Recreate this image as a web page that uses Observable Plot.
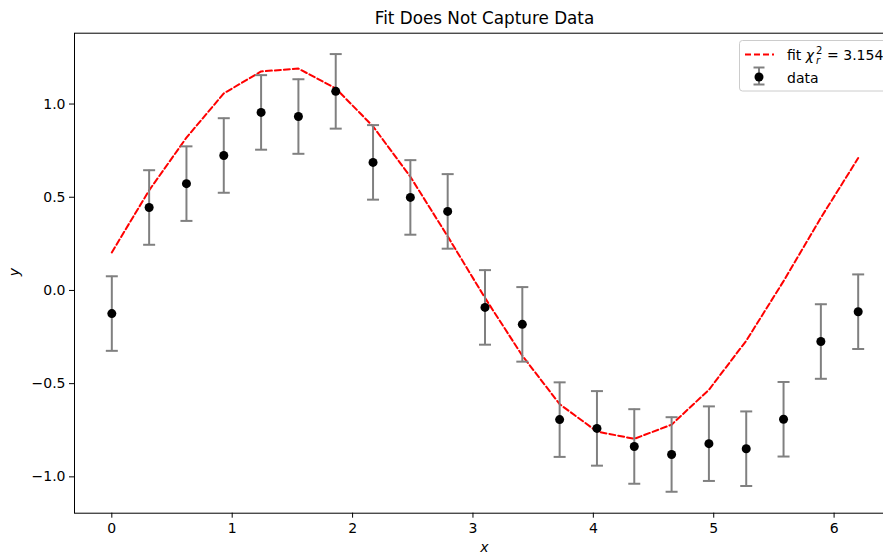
<!DOCTYPE html>
<html>
<head>
<meta charset="utf-8">
<script src="https://cdn.jsdelivr.net/npm/d3@7"></script>
<script src="https://cdn.jsdelivr.net/npm/@observablehq/plot@0.6"></script>
<style>
  html, body { margin: 0; padding: 0; background: #fff; overflow: hidden; }
  #chart { width: 883px; height: 555px; overflow: hidden; }
  #chart svg { max-width: none !important; width: 920px !important; height: 555px !important; }
</style>
</head>
<body>
<div id="chart"></div>
<script>
// ---- data ----
const xValues = [0, 0.31, 0.62, 0.93, 1.24, 1.55, 1.86, 2.17, 2.48, 2.79, 3.10, 3.41, 3.72, 4.03, 4.34, 4.65, 4.96, 5.27, 5.58, 5.89, 6.20];
const yData = [-0.124, 0.445, 0.573, 0.724, 0.955, 0.933, 1.068, 0.687, 0.499, 0.424, -0.091, -0.182, -0.693, -0.740, -0.837, -0.880, -0.822, -0.849, -0.691, -0.274, -0.114];
const yErr = [0.2, 0.2, 0.2, 0.2, 0.2, 0.2, 0.2, 0.2, 0.2, 0.2, 0.2, 0.2, 0.2, 0.2, 0.2, 0.2, 0.2, 0.2, 0.2, 0.2, 0.2];
const yFit = [0.204, 0.537, 0.82, 1.057, 1.175, 1.19, 1.084, 0.88, 0.61, 0.29, -0.04, -0.35, -0.61, -0.757, -0.796, -0.72, -0.533, -0.27, 0.05, 0.39, 0.71];
const xTicks = [0, 1, 2, 3, 4, 5, 6];
const yTicks = [-1.0, -0.5, 0.0, 0.5, 1.0];
const titleText = "Fit Does Not Capture Data";
const xLabel = "x";
const yLabel = "y";
const fitLabel = "fit";
const chiValue = "3.154";
const dataLabel = "data";

const points = xValues.map((x, i) => ({x, y: yData[i], e: yErr[i]}));
const fitRows = xValues.map((x, i) => ({x, y: yFit[i]}));

const capSymbol = {
  draw(ctx) { ctx.moveTo(-6, 0); ctx.lineTo(6, 0); }
};
const fmtY = d => (d < 0 ? "\u2212" : "") + Math.abs(d).toFixed(1);
const fmtX = d => String(d);

const W = 920, H = 555;
const ML = 74, MR = 25, MT = 32.7, MB = 42.3;
const chart = Plot.plot({
  width: W, height: H,
  marginLeft: ML, marginRight: MR, marginTop: MT, marginBottom: MB,
  x: {domain: [-0.31, 6.51]},
  y: {domain: [-1.195, 1.38]},
  style: {fontFamily: "DejaVu Sans, sans-serif", fontSize: "14px", color: "#000", background: "#fff", overflow: "visible"},
  marks: [
    Plot.line(fitRows, {x: "x", y: "y", stroke: "#ff0000", strokeWidth: 2, strokeDasharray: "6,3"}),
    Plot.ruleX(points, {x: "x", y1: d => d.y - d.e, y2: d => d.y + d.e, stroke: "#808080", strokeWidth: 2}),
    Plot.dot(points, {x: "x", y: d => d.y + d.e, symbol: capSymbol, fill: "none", stroke: "#808080", strokeWidth: 2}),
    Plot.dot(points, {x: "x", y: d => d.y - d.e, symbol: capSymbol, fill: "none", stroke: "#808080", strokeWidth: 2}),
    Plot.dot(points, {x: "x", y: "y", r: 4.5, fill: "#000"}),
    Plot.frame({stroke: "#000", strokeWidth: 1}),
    Plot.axisX({ticks: xTicks, tickSize: 5, tickPadding: 5, tickFormat: fmtX, label: null, fontSize: 14}),
    Plot.axisY({ticks: yTicks, tickSize: 5, tickPadding: 4, tickFormat: fmtY, label: null, fontSize: 14})
  ]
});
chart.style.maxWidth = "none";
document.getElementById("chart").appendChild(chart);

const svg = d3.select(chart);
const font = "DejaVu Sans, sans-serif";
const cx = (ML + (W - MR)) / 2;
// title
svg.append("text").attr("x", cx).attr("y", 24).attr("text-anchor", "middle")
  .attr("font-family", font).attr("font-size", 16.8).attr("fill", "#000").text(titleText);
// axis labels
svg.append("text").attr("x", cx).attr("y", 552).attr("text-anchor", "middle")
  .attr("font-family", font).attr("font-size", 14).attr("font-style", "italic").attr("fill", "#000").text(xLabel);
svg.append("text").attr("transform", "translate(19,272) rotate(-90)").attr("text-anchor", "middle")
  .attr("font-family", font).attr("font-size", 14).attr("font-style", "italic").attr("fill", "#000").text(yLabel);

// legend
const lg = svg.append("g").attr("text-anchor", "start");
lg.append("rect").attr("x", 739.5).attr("y", 40.5).attr("width", 150).attr("height", 50.5).attr("rx", 3)
  .attr("fill", "#fff").attr("fill-opacity", 0.8).attr("stroke", "#cccccc").attr("stroke-width", 1);
lg.append("line").attr("x1", 745).attr("x2", 774).attr("y1", 54.5).attr("y2", 54.5)
  .attr("stroke", "#ff0000").attr("stroke-width", 2).attr("stroke-dasharray", "6,3");
const t1 = lg.append("text").attr("x", 787).attr("y", 60).attr("text-anchor", "start")
  .attr("font-family", font).attr("font-size", 14).attr("fill", "#000");
t1.append("tspan").text(fitLabel + " ");
t1.append("tspan").attr("font-style", "italic").text("\u03c7");
t1.append("tspan").attr("font-size", 10).attr("dx", 2).attr("dy", -6).text("2");
t1.append("tspan").attr("font-size", 10).attr("font-style", "italic").attr("dx", -6.5).attr("dy", 10).text("r");
t1.append("tspan").attr("dy", -4).attr("dx", 7).text("= " + chiValue);
lg.append("line").attr("x1", 759).attr("x2", 759).attr("y1", 67.5).attr("y2", 84.5).attr("stroke", "#808080").attr("stroke-width", 2);
lg.append("line").attr("x1", 753.5).attr("x2", 764.5).attr("y1", 67.5).attr("y2", 67.5).attr("stroke", "#808080").attr("stroke-width", 2);
lg.append("line").attr("x1", 753.5).attr("x2", 764.5).attr("y1", 84.5).attr("y2", 84.5).attr("stroke", "#808080").attr("stroke-width", 2);
lg.append("circle").attr("cx", 759).attr("cy", 77).attr("r", 4.5).attr("fill", "#000");
lg.append("text").attr("x", 787).attr("y", 82.5).attr("text-anchor", "start")
  .attr("font-family", font).attr("font-size", 14).attr("fill", "#000").text(dataLabel);
</script>
</body>
</html>
